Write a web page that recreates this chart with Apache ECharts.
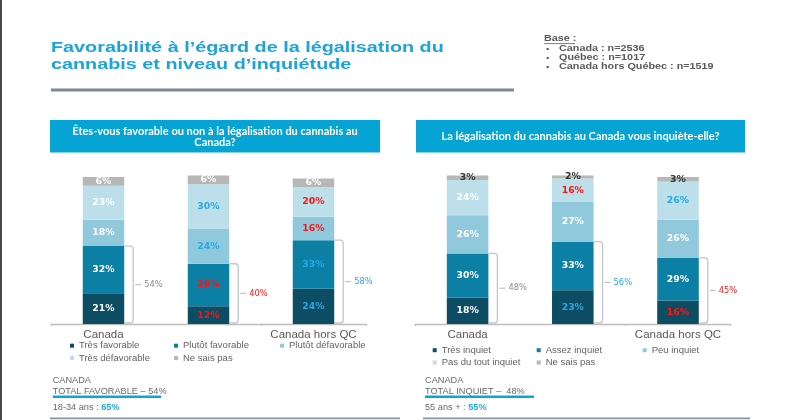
<!DOCTYPE html>
<html>
<head>
<meta charset="utf-8">
<script src="https://cdn.jsdelivr.net/npm/echarts@6/dist/echarts.min.js"></script>
<style>
  html, body { margin: 0; padding: 0; background: #ffffff; }
  #chart { width: 800px; height: 420px; }
</style>
</head>
<body>
<div id="chart"></div>
<script>
// ---------------- DATA ----------------
const categories = ['Canada', 'Québec', 'Canada hors QC'];

const favQuestion = ['Êtes-vous favorable ou non à la légalisation du cannabis au', 'Canada?'];
const favNames = ['Très favorable', 'Plutôt favorable', 'Plutôt défavorable', 'Très défavorable', 'Ne sais pas'];
const tresFavorable     = [21, 12, 24];
const plutotFavorable   = [32, 29, 33];
const plutotDefavorable = [18, 24, 16];
const tresDefavorable   = [23, 30, 20];
const favNeSaisPas      = [6, 6, 6];
const totalFavorable    = [54, 40, 58];
// significance flags: 'h' = significantly higher, 'l' = significantly lower, '' = none
const sigTresFavorable     = ['', 'l', 'h'];
const sigPlutotFavorable   = ['', 'l', 'h'];
const sigPlutotDefavorable = ['', 'h', 'l'];
const sigTresDefavorable   = ['', 'h', 'l'];
const sigFavNeSaisPas      = ['', '', ''];
const sigTotalFavorable    = ['', 'l', 'h'];

const inqQuestion = ['La légalisation du cannabis au Canada vous inquiète-elle?'];
const inqNames = ['Très inquiet', 'Assez inquiet', 'Peu inquiet', 'Pas du tout inquiet', 'Ne sais pas'];
const tresInquiet      = [18, 23, 16];
const assezInquiet     = [30, 33, 29];
const peuInquiet       = [26, 27, 26];
const pasDuToutInquiet = [24, 16, 26];
const inqNeSaisPas     = [3, 2, 3];
const totalInquiet     = [48, 56, 45];
const sigTresInquiet      = ['', 'h', 'l'];
const sigAssezInquiet     = ['', '', ''];
const sigPeuInquiet       = ['', '', ''];
const sigPasDuToutInquiet = ['', 'l', 'h'];
const sigInqNeSaisPas     = ['', '', ''];
const sigTotalInquiet     = ['', 'h', 'l'];

const titleLines = ['Favorabilité à l’égard de la légalisation du', 'cannabis et niveau d’inquiétude'];
const baseLines = ['Canada : n=2536', 'Québec : n=1017', 'Canada hors Québec : n=1519'];
const favNote = ['CANADA', 'TOTAL FAVORABLE – 54%', '18-34 ans : ', '65%'];
const inqNote = ['CANADA', 'TOTAL INQUIET –  48%', '55 ans + : ', '55%'];

// ---------------- STYLE ----------------
const segColors = ['#0c4d63', '#0b7fa4', '#90c9db', '#bcdfe9', '#b7b7b7'];
const sigColor = { h: '#27a9e3', l: '#ff1414' };
const headerBlue = '#05a4d4';
const textGray = '#595959';

const chart = echarts.init(document.getElementById('chart'), null, { renderer: 'canvas' });

const BAR_RATIO = 0.395;

function segSeries(name, values, sigs, color, gi, defLabel) {
  return {
    name: name,
    type: 'bar',
    stack: 'g' + gi,
    xAxisIndex: gi, yAxisIndex: gi,
    barWidth: (BAR_RATIO * 100) + '%',
    itemStyle: { color: color },
    label: {
      show: true, position: 'inside', formatter: '{c}%',
      fontFamily: 'DejaVu Sans', fontWeight: 'bold', fontSize: 9.3
    },
    data: values.map((v, i) => ({
      value: v,
      label: { color: sigs[i] ? sigColor[sigs[i]] : defLabel }
    }))
  };
}

function bracketSeries(gi, a, b, totals, sigs) {
  return {
    type: 'custom',
    xAxisIndex: gi, yAxisIndex: gi,
    silent: true,
    encode: { x: 0, y: 1 },
    data: categories.map((c, i) => [i, a[i] + b[i], totals[i], i]),
    renderItem: function (params, api) {
      const idx = api.value(0);
      const top = api.value(1);
      const total = api.value(2);
      const base = api.coord([idx, 0]);
      const tp = api.coord([idx, top]);
      const band = api.size([1, 0])[0];
      const hw = band * BAR_RATIO / 2;
      const x0 = base[0] + hw + 0.5;
      const bx = base[0] + hw + 9;
      const yb = base[1] - 1;
      const yt = tp[1];
      const r = 3;
      const ym = (yb + yt) / 2;
      const s = sigs[idx];
      const col = s ? sigColor[s] : '#8c8c8c';
      return {
        type: 'group',
        children: [
          { type: 'path',
            shape: { pathData: 'M' + x0 + ' ' + yt + ' L' + (bx - r) + ' ' + yt + ' Q' + bx + ' ' + yt + ' ' + bx + ' ' + (yt + r) +
                     ' L' + bx + ' ' + (yb - r) + ' Q' + bx + ' ' + yb + ' ' + (bx - r) + ' ' + yb + ' L' + x0 + ' ' + yb },
            style: { stroke: '#c6c6c6', lineWidth: 1.3, fill: 'none' } },
          { type: 'line', shape: { x1: bx + 2, y1: ym, x2: bx + 8, y2: ym },
            style: { stroke: '#c6c6c6', lineWidth: 1.3 } },
          { type: 'text', x: bx + 11, y: ym,
            style: { text: total + '%', fill: col, fontFamily: 'DejaVu Sans', fontSize: 8.3, verticalAlign: 'middle', align: 'left' } }
        ]
      };
    }
  };
}

function axisX(gi) {
  return {
    type: 'category', gridIndex: gi, data: categories,
    axisLine: { lineStyle: { color: '#bdbdbd', width: 1.3 } },
    axisTick: { show: true, length: 2, lineStyle: { color: '#bdbdbd' } },
    axisLabel: { color: textGray, fontFamily: 'Liberation Sans', fontSize: 11.5, margin: 5 }
  };
}
function axisY(gi) {
  return { type: 'value', gridIndex: gi, min: 0, max: 110, show: false, splitLine: { show: false } };
}

// legends: one per item, placed in a 3-column grid
function legendsFor(names, x0, y0) {
  const colDx = [0, 104, 210];
  return names.map((n, k) => ({
    data: [n],
    left: x0 + colDx[k % 3] - 9,
    top: y0 + Math.floor(k / 3) * 12.3 - 6,
    padding: 0,
    itemWidth: 4, itemHeight: 4, itemGap: 0,
    icon: 'rect',
    selectedMode: false,
    textStyle: { color: '#636363', fontFamily: 'Liberation Sans', fontSize: 9.5, lineHeight: 12 }
  }));
}

function noteGraphics(note, x, w) {
  return [
    { type: 'text', x: x, y: 380.7, style: { text: note[0], fill: '#6a6a6a', fontFamily: 'Liberation Sans', fontSize: 9.2, verticalAlign: 'middle' } },
    { type: 'text', x: x, y: 391, style: { text: note[1], fill: '#6a6a6a', fontFamily: 'Liberation Sans', fontSize: 9.2, verticalAlign: 'middle' } },
    { type: 'rect', shape: { x: x, y: 395.6, width: w, height: 2.4 }, style: { fill: '#0aa6dc' } },
    { type: 'text', x: x, y: 407.7, style: {
        text: '{a|' + note[2] + '}{b|' + note[3] + '}', verticalAlign: 'middle',
        rich: { a: { fill: '#6a6a6a', fontFamily: 'Liberation Sans', fontSize: 9.2 },
                b: { fill: '#27a9e3', fontFamily: 'Liberation Sans', fontSize: 9.2, fontWeight: 'bold' } } } }
  ];
}

const graphics = [
  // left border
  { type: 'rect', shape: { x: 0, y: 0, width: 2, height: 420 }, style: { fill: '#4a4a4a' } },
  // title
  { type: 'text', x: 51, y: 47.7, scaleX: 1.32, style: { text: titleLines[0], fill: '#1ba3dc', fontFamily: 'Liberation Sans', fontWeight: 'bold', fontSize: 15, verticalAlign: 'middle' } },
  { type: 'text', x: 51, y: 65.2, scaleX: 1.32, style: { text: titleLines[1], fill: '#1ba3dc', fontFamily: 'Liberation Sans', fontWeight: 'bold', fontSize: 15, verticalAlign: 'middle' } },
  { type: 'rect', shape: { x: 51, y: 88.5, width: 463, height: 3 }, style: { fill: '#7c8993' } },
  // base
  { type: 'text', x: 544, y: 38.8, scaleX: 1.2, style: { text: 'Base :', fill: textGray, fontFamily: 'Liberation Sans', fontWeight: 'bold', fontSize: 9, verticalAlign: 'middle' } },
  { type: 'rect', shape: { x: 544, y: 43.3, width: 31, height: 0.8 }, style: { fill: textGray } },
  // question headers
  { type: 'rect', shape: { x: 50, y: 120, width: 330, height: 32.5 }, style: { fill: headerBlue } },
  { type: 'text', x: 215, y: 131.4, style: { text: favQuestion[0], fill: '#ffffff', fontFamily: 'Lato', fontWeight: 'bold', fontSize: 11, align: 'center', verticalAlign: 'middle' } },
  { type: 'text', x: 215, y: 142.8, style: { text: favQuestion[1], fill: '#ffffff', fontFamily: 'Lato', fontWeight: 'bold', fontSize: 11, align: 'center', verticalAlign: 'middle' } },
  { type: 'rect', shape: { x: 416, y: 120, width: 329, height: 32.5 }, style: { fill: headerBlue } },
  { type: 'text', x: 580.5, y: 136.2, style: { text: inqQuestion[0], fill: '#ffffff', fontFamily: 'Lato', fontWeight: 'bold', fontSize: 11, align: 'center', verticalAlign: 'middle' } },
  // bottom rules
  { type: 'rect', shape: { x: 50, y: 417.6, width: 350, height: 1.6 }, style: { fill: '#8b959d' } },
  { type: 'rect', shape: { x: 423, y: 417.6, width: 327, height: 1.6 }, style: { fill: '#8b959d' } }
].concat(
  baseLines.map((t, i) => ({ type: 'text', x: 546, y: 49 + i * 8.8, scaleX: 1.2, style: { text: '•', fill: textGray, fontFamily: 'Liberation Sans', fontSize: 8, verticalAlign: 'middle' } })),
  baseLines.map((t, i) => ({ type: 'text', x: 559, y: 49 + i * 8.8, scaleX: 1.2, style: { text: t, fill: textGray, fontFamily: 'Liberation Sans', fontWeight: 'bold', fontSize: 9, verticalAlign: 'middle' } })),
  noteGraphics(favNote, 52.7, 108.5),
  noteGraphics(inqNote, 425, 109)
);

const favValues = [tresFavorable, plutotFavorable, plutotDefavorable, tresDefavorable, favNeSaisPas];
const favSigs = [sigTresFavorable, sigPlutotFavorable, sigPlutotDefavorable, sigTresDefavorable, sigFavNeSaisPas];
const inqValues = [tresInquiet, assezInquiet, peuInquiet, pasDuToutInquiet, inqNeSaisPas];
const inqSigs = [sigTresInquiet, sigAssezInquiet, sigPeuInquiet, sigPasDuToutInquiet, sigInqNeSaisPas];

const series = []
  .concat(favNames.map((n, k) => segSeries(n, favValues[k], favSigs[k], segColors[k], 0, '#ffffff')))
  .concat(inqNames.map((n, k) => segSeries(n, inqValues[k], inqSigs[k], segColors[k], 1, k === 4 ? '#333333' : '#ffffff')))
  .concat([bracketSeries(0, tresFavorable, plutotFavorable, totalFavorable, sigTotalFavorable),
           bracketSeries(1, tresInquiet, assezInquiet, totalInquiet, sigTotalInquiet)]);

chart.setOption({
  backgroundColor: '#ffffff',
  animation: false,
  grid: [
    { left: 51, width: 315, top: 162.3, height: 161.7 },
    { left: 415, width: 315.6, top: 162.3, height: 161.7 }
  ],
  xAxis: [axisX(0), axisX(1)],
  yAxis: [axisY(0), axisY(1)],
  legend: legendsFor(favNames, 79, 345.7).concat(legendsFor(inqNames, 441.7, 350.2)),
  graphic: graphics,
  series: series
});
</script>
</body>
</html>
